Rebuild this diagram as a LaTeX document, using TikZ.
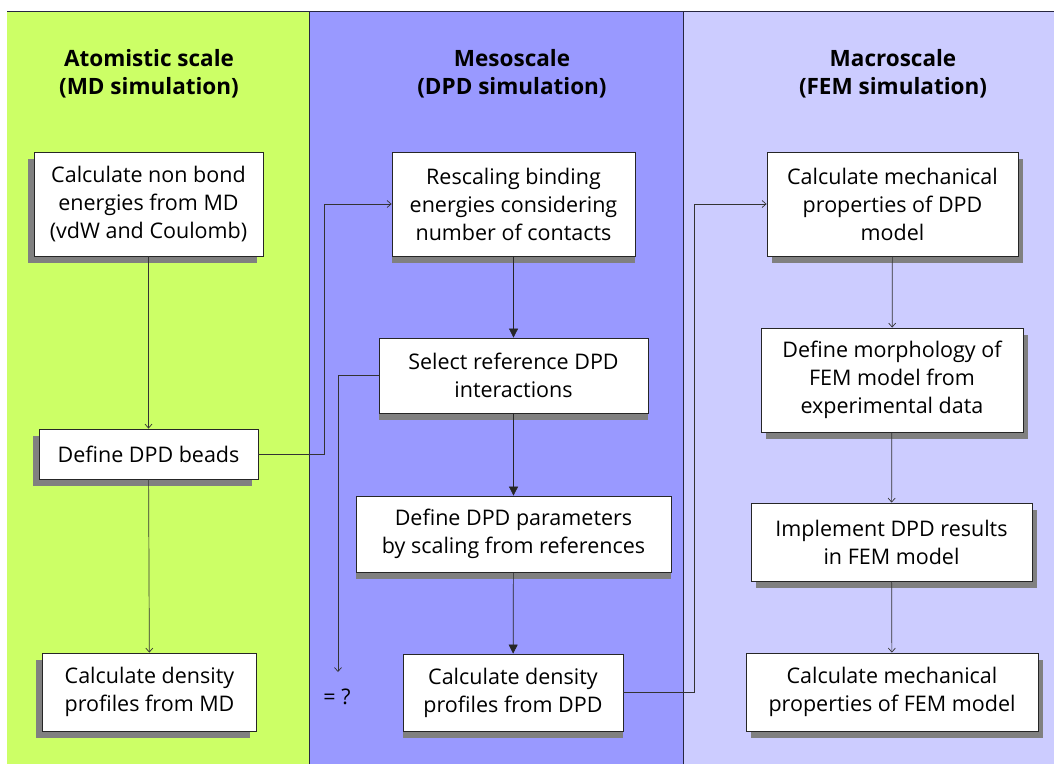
\documentclass[tikz,border=0pt]{standalone}
\usepackage{fontspec}
\setmainfont{Open Sans}
\usetikzlibrary{arrows.meta, shadows}
\definecolor{atomgreen}{HTML}{CCFF66}
\definecolor{mesoblue}{HTML}{9999FF}
\definecolor{macrolilac}{HTML}{CCCCFF}
\definecolor{shadowgray}{HTML}{808080}
\definecolor{edgeline}{HTML}{262640}

\begin{document}
\begin{tikzpicture}[
  x=1pt, y=-1pt,
  stepbox/.style={rectangle, draw=black!85, line width=0.8pt, fill=white, align=center, inner sep=2pt, font=\fontsize{21.5}{28}\selectfont},
  leftbox/.style={stepbox, general shadow={shadow xshift=-6.5pt, shadow yshift=-6.5pt, fill=shadowgray}},
  midbox/.style={stepbox, general shadow={shadow xshift=0pt, shadow yshift=-6.5pt, fill=shadowgray}},
  rightbox/.style={stepbox, general shadow={shadow xshift=5pt, shadow yshift=-6.5pt, fill=shadowgray}},
  header/.style={align=center, font=\bfseries\fontsize{22.5}{28}\selectfont},
  arr/.style={-{Straight Barb[length=4pt, width=7pt]}, line width=0.7pt, draw=black!80},
  farr/.style={-{Triangle[length=9pt, width=9pt]}, line width=0.7pt, draw=black!85}
]
\useasboundingbox (0,0) rectangle (1054,764);
\fill[atomgreen] (7,11) rectangle (309.5,764);
\fill[mesoblue] (309.5,11) rectangle (683.5,764);
\fill[macrolilac] (683.5,11) rectangle (1054,764);
\draw[edgeline, line width=1pt] (7,11) -- (1054,11)
  (309.5,11) -- (309.5,764) (683.5,11) -- (683.5,764);

\node[header] (hatom) at (149,74) {Atomistic scale\\(MD simulation)};
\node[header] (hmeso) at (512,74) {Mesoscale\\(DPD simulation)};
\node[header] (hmacro) at (893,74) {Macroscale\\(FEM simulation)};

\node[leftbox, minimum width=229pt, minimum height=104pt] (nonbond) at (148.5,204) {Calculate non bond\\energies from MD\\(vdW and Coulomb)};
\node[leftbox, minimum width=219pt, minimum height=50pt] (beads) at (148.5,454) {Define DPD beads};
\node[leftbox, minimum width=214pt, minimum height=78pt] (densmd) at (149.5,692) {Calculate density\\profiles from MD};

\node[midbox, minimum width=243pt, minimum height=104pt] (rescale) at (513.5,204) {Rescaling binding\\energies considering\\number of contacts};
\node[midbox, minimum width=269pt, minimum height=75pt] (selref) at (513.5,375.5) {Select reference DPD\\interactions};
\node[midbox, minimum width=315pt, minimum height=76pt] (dpdpar) at (513.5,534) {Define DPD parameters\\by scaling from references};
\node[midbox, minimum width=220pt, minimum height=77pt] (densdpd) at (513,692.5) {Calculate density\\profiles from DPD};
\node[font=\fontsize{21.5}{28}\selectfont] (qmark) at (337,697) {= ?};
\coordinate (qend) at (338,672);

\node[rightbox, minimum width=251pt, minimum height=104pt] (mechdpd) at (892.5,204) {Calculate mechanical\\properties of DPD\\model};
\node[rightbox, minimum width=262pt, minimum height=104pt] (morph) at (892,380) {Define morphology of\\FEM model from\\experimental data};
\node[rightbox, minimum width=281pt, minimum height=78pt] (implem) at (891.5,542) {Implement DPD results\\in FEM model};
\node[rightbox, minimum width=292pt, minimum height=78pt] (mechfem) at (892,692) {Calculate mechanical\\properties of FEM model};

\draw[arr] (nonbond) -- (beads);
\draw[arr] (beads) -- (densmd);
\draw[arr] (beads.east) -- ++(66,0) |- (rescale.west);

\draw[farr] (rescale) -- (selref);
\draw[farr] (selref) -- (dpdpar);
\draw[farr] (dpdpar) -- (densdpd);
\draw[arr] (selref.west) -| (qend);
\draw[arr] (densdpd.east) -- ++(71,0) |- (mechdpd.west);

\draw[arr] (mechdpd) -- (morph);
\draw[arr] (morph) -- (implem);
\draw[arr] (implem) -- (mechfem);
\end{tikzpicture}
\end{document}
